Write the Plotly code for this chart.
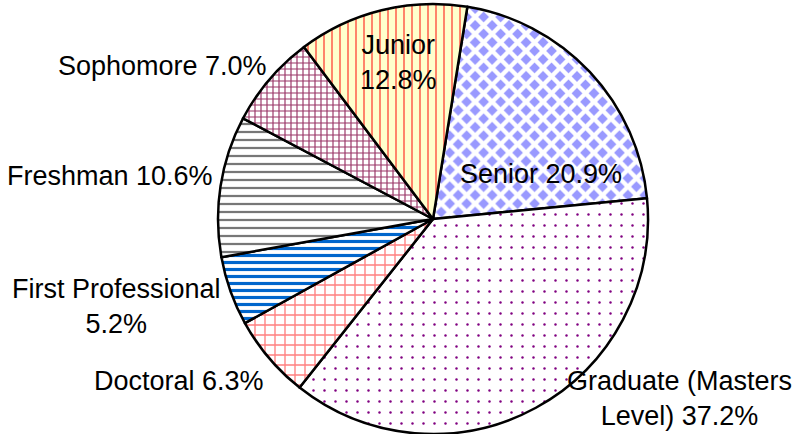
import plotly.graph_objects as go

# Enrollment share by level (clockwise from Senior)
levels = ["Senior", "Graduate (Masters Level)", "Doctoral", "First Professional",
          "Freshman", "Sophomore", "Junior"]
shares = [20.9, 37.2, 6.3, 5.2, 10.6, 7.0, 12.8]

# how each label is wrapped on the chart
label_names = ["Senior", "Graduate (Masters<br>Level)", "Doctoral", "First Professional",
               "Freshman", "Sophomore", "Junior"]
label_seps = [" ", " ", " ", "<br>", " ", " ", "<br>"]

# label centres in pixels (x, y from top) on the 794x434 canvas
label_px = [(541, 174), (679, 398), (179, 381), (116, 306),
            (110, 176), (162, 66), (398, 63)]

W, H = 794, 434
FONT = "Arial, Liberation Sans, sans-serif"

shapes = ["x", ".", "+", "-", "-", "+", "|"]
fg = ["#FFFFFF", "#800080", "#FF8080", "#0066CC", "#777777", "#993366", "#FF0000"]
bg = ["#9999FF", "#FFFFFF", "#FFFFFF", "#FFFFFF", "#FFFFFF", "#FFFFFF", "#FFFFCC"]
psize = [12, 11, 10, 7, 8, 6, 8]
solid = [0.6, 0.04, 0.25, 0.45, 0.28, 0.35, 0.12]

r = 215
cx, cy = 433, H - r

fig = go.Figure(go.Pie(
    labels=levels,
    values=shares,
    sort=False,
    direction="clockwise",
    rotation=9.2,
    textinfo="none",
    hoverinfo="label+percent",
    showlegend=False,
    domain=dict(x=[(cx - r) / W, (cx + r) / W], y=[0, 2 * r / H]),
    marker=dict(
        colors=bg,
        line=dict(color="black", width=2.5),
        pattern=dict(shape=shapes, fgcolor=fg, bgcolor=bg, size=psize,
                     solidity=solid, fillmode="replace"),
    ),
))

for name, sep, val, (px, py) in zip(label_names, label_seps, shares, label_px):
    fig.add_annotation(
        x=px / W, y=1 - py / H, xref="paper", yref="paper",
        text=f"{name}{sep}{val:.1f}%",
        showarrow=False, xanchor="center", yanchor="middle", align="center",
        font=dict(family=FONT, size=27, color="black"),
    )

fig.update_layout(
    width=W, height=H,
    margin=dict(l=0, r=0, t=0, b=0),
    paper_bgcolor="white",
    plot_bgcolor="white",
)

# the page's default body margin would push the chart 8px in
fig.write_html("out.html", config={"displayModeBar": False},
               post_script="document.body.style.margin='0';")
